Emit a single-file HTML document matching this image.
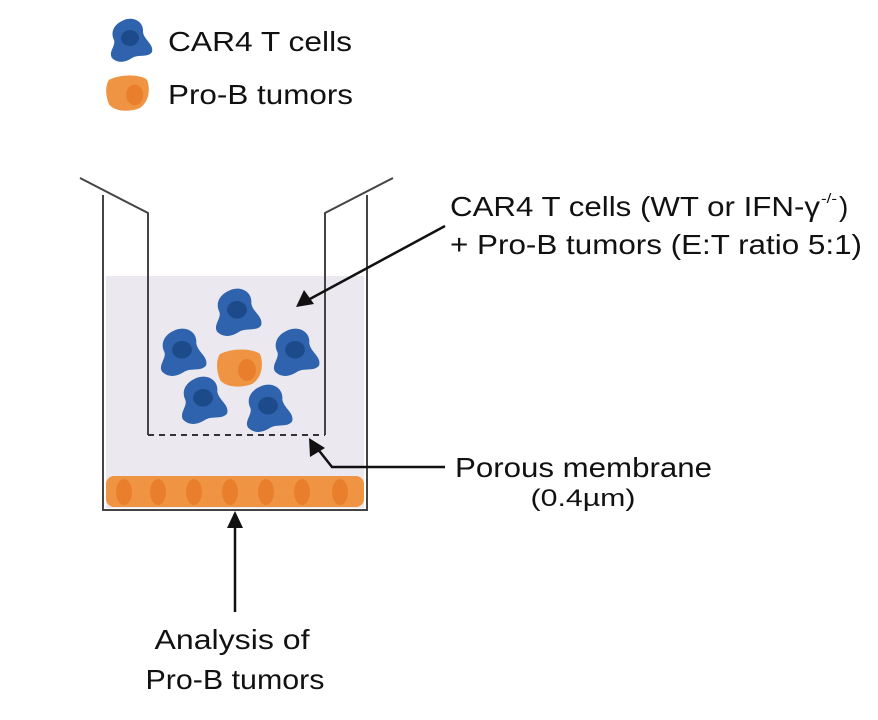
<!DOCTYPE html>
<html><head><meta charset="utf-8"><style>html,body{margin:0;padding:0;background:#fff}svg{display:block}</style></head>
<body>
<svg width="878" height="720" viewBox="0 0 878 720" xmlns="http://www.w3.org/2000/svg" font-family="Liberation Sans, Arial, sans-serif" fill="#111">
<defs>
<g id="tc">
<path d="M-6,-20 C4,-24 14,-18 13,-8 C14,0 24,4 22,12 C18,18 8,14 2,18 C-4,22 -12,24 -18,18 C-22,12 -14,6 -16,0 C-20,-8 -16,-16 -6,-20 Z" fill="#2f63ad"/>
<ellipse cx="0" cy="-2" rx="9" ry="8" fill="#1d4a8a"/>
</g>
<g id="pb">
<path d="M-20,-14 C-8,-20 12,-20 20,-14 C24,-4 22,10 12,16 C2,20 -14,20 -20,12 C-24,2 -24,-8 -20,-14 Z" fill="#ef9443"/>
<ellipse cx="7" cy="2" rx="9" ry="11" fill="#e97f2c"/>
</g>
</defs>
<!-- legend -->
<use href="#tc" transform="translate(130,40) scale(1.0)"/>
<text x="168" y="51" font-size="28" textLength="184" lengthAdjust="spacingAndGlyphs">CAR4 T cells</text>
<use href="#pb" transform="translate(128,93) scale(0.95)"/>
<text x="168" y="104" font-size="28" textLength="185" lengthAdjust="spacingAndGlyphs">Pro-B tumors</text>
<!-- media -->
<rect x="106" y="276" width="258" height="232" fill="#ebe8f0"/>
<!-- bottom tumor layer -->
<g>
<rect x="106" y="476" width="258" height="31" rx="8" fill="#ef9443"/>
<ellipse cx="124" cy="492" rx="8" ry="13" fill="#e97f2c"/>
<ellipse cx="158" cy="492" rx="8" ry="13" fill="#e97f2c"/>
<ellipse cx="194" cy="492" rx="8" ry="13" fill="#e97f2c"/>
<ellipse cx="230" cy="492" rx="8" ry="13" fill="#e97f2c"/>
<ellipse cx="266" cy="492" rx="8" ry="13" fill="#e97f2c"/>
<ellipse cx="302" cy="492" rx="8" ry="13" fill="#e97f2c"/>
<ellipse cx="340" cy="492" rx="8" ry="13" fill="#e97f2c"/>
</g>
<!-- outer well -->
<polyline points="103,195 103,510 367,510 367,195" fill="none" stroke="#444" stroke-width="2"/>
<!-- insert -->
<polyline points="80,178 148,213 148,435" fill="none" stroke="#444" stroke-width="2"/>
<polyline points="393,178 325,213 325,435" fill="none" stroke="#444" stroke-width="2"/>
<line x1="148" y1="435" x2="325" y2="435" stroke="#333" stroke-width="2" stroke-dasharray="6,5"/>
<!-- cells -->
<use href="#tc" transform="translate(237,312) scale(1.1)"/>
<use href="#tc" transform="translate(182,352) scale(1.1)"/>
<use href="#tc" transform="translate(295,352) scale(1.1)"/>
<use href="#tc" transform="translate(203,400) scale(1.1)"/>
<use href="#tc" transform="translate(268,408) scale(1.1)"/>
<use href="#pb" transform="translate(240,368)"/>
<!-- arrows -->
<g stroke="#111" stroke-width="2.5" fill="none">
<line x1="445" y1="226" x2="308" y2="300"/>
<polyline points="445,467 332,467 317,448"/>
<line x1="235" y1="612" x2="235" y2="526"/>
</g>
<polygon points="296,307 304,290 314,304" fill="#111"/>
<polygon points="309,438 310,457 325,448" fill="#111"/>
<polygon points="235,511 227,528 243,528" fill="#111"/>
<!-- labels -->
<text x="450" y="216" font-size="28" textLength="370" lengthAdjust="spacingAndGlyphs">CAR4 T cells (WT or IFN-γ</text>
<text x="821" y="203" font-size="14" textLength="16" lengthAdjust="spacingAndGlyphs">-/-</text>
<text x="839" y="216" font-size="28">)</text>
<text x="450" y="254" font-size="28" textLength="412" lengthAdjust="spacingAndGlyphs">+ Pro-B tumors (E:T ratio 5:1)</text>
<text x="455" y="477" font-size="28" textLength="257" lengthAdjust="spacingAndGlyphs">Porous membrane</text>
<text x="583" y="506" font-size="24" text-anchor="middle" textLength="105" lengthAdjust="spacingAndGlyphs">(0.4µm)</text>
<text x="232" y="649" font-size="28" text-anchor="middle" textLength="155" lengthAdjust="spacingAndGlyphs">Analysis of</text>
<text x="235" y="689" font-size="28" text-anchor="middle" textLength="179" lengthAdjust="spacingAndGlyphs">Pro-B tumors</text>
</svg>
</body></html>
